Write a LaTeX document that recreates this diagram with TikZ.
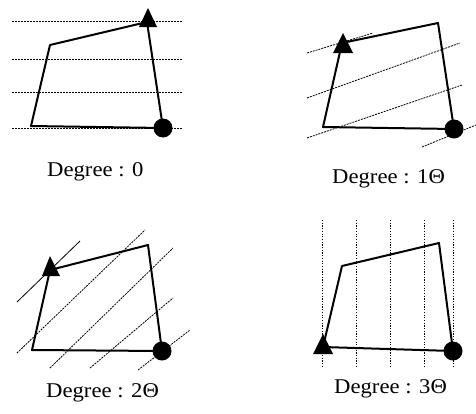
\documentclass[tikz,border=0pt]{standalone}
\usepackage{fontspec}
\setmainfont{Liberation Serif}[FakeStretch=1.08]
\begin{document}
\begin{tikzpicture}[x=1pt,y=-1pt,
  poly/.style={line width=2pt,line join=round},
  hatch/.style={line width=0.8pt,dash pattern=on 2pt off 1pt},
  hatchsolid/.style={line width=0.8pt},
  hatchdot/.style={line width=0.9pt,dash pattern=on 1.2pt off 1.5pt},
  mark tri/.style={fill=black},
  mark dot/.style={circle,fill=black,inner sep=0pt,minimum size=19pt},
  lab/.style={anchor=base west,inner sep=0pt,font=\fontsize{21}{25}\selectfont}]
\useasboundingbox (0,0) rectangle (476,413);
% ---------- panel 1 : Degree 0 ----------
\foreach \yy in {21,59,92,128} \draw[hatch] (12,\yy) -- (182,\yy);
\coordinate (a1) at (31,126); \coordinate (b1) at (50,45);
\coordinate (c1) at (147,22); \coordinate (d1) at (163,128);
\draw[poly] (a1) -- (b1) -- (c1) -- (d1) -- cycle;
\fill[mark tri] (148,8) -- (139,27) -- (157,27) -- cycle;
\node[mark dot] (p1) at (d1) {};
\node[lab] (t1) at (47,176) {Degree : 0};
% ---------- panel 2 : Degree 1 ----------
\draw[hatch] (307,53) -- (373,33);
\draw[hatch] (307,98) -- (460,43);
\draw[hatch] (307,138) -- (462,85);
\draw[hatch] (422,147) -- (476,125);
\coordinate (a2) at (323,127); \coordinate (b2) at (342,43);
\coordinate (c2) at (438,23); \coordinate (d2) at (454,129);
\draw[poly] (a2) -- (b2) -- (c2) -- (d2) -- cycle;
\fill[mark tri] (343,33) -- (333,53) -- (353,53) -- cycle;
\node[mark dot] (p2) at (d2) {};
\node[lab] (t2) at (332,183) {Degree : 1Θ};
% ---------- panel 3 : Degree 2 ----------
\draw[hatchsolid] (17,302) -- (80,241);
\draw[hatch] (17,353) -- (145,230);
\draw[hatch] (50,368) -- (173,248);
\draw[hatch] (90,368) -- (173,298);
\draw[hatch] (138,370) -- (190,330);
\coordinate (a3) at (32,350); \coordinate (b3) at (50,270);
\coordinate (c3) at (148,245); \coordinate (d3) at (162,351);
\draw[poly] (a3) -- (b3) -- (c3) -- (d3) -- cycle;
\fill[mark tri] (50,256) -- (42,276) -- (60,276) -- cycle;
\node[mark dot] (p3) at (d3) {};
\node[lab] (t3) at (46,397) {Degree : 2Θ};
% ---------- panel 4 : Degree 3 ----------
\foreach \xx in {322,356,390,424,453} \draw[hatchdot] (\xx,220) -- (\xx,367);
\coordinate (a4) at (323,347); \coordinate (b4) at (342,266);
\coordinate (c4) at (439,243); \coordinate (d4) at (453,351);
\draw[poly] (a4) -- (b4) -- (c4) -- (d4) -- cycle;
\fill[mark tri] (323,334) -- (313,354) -- (333,354) -- cycle;
\node[mark dot] (p4) at (d4) {};
\node[lab] (t4) at (334,393) {Degree : 3Θ};
\end{tikzpicture}
\end{document}
